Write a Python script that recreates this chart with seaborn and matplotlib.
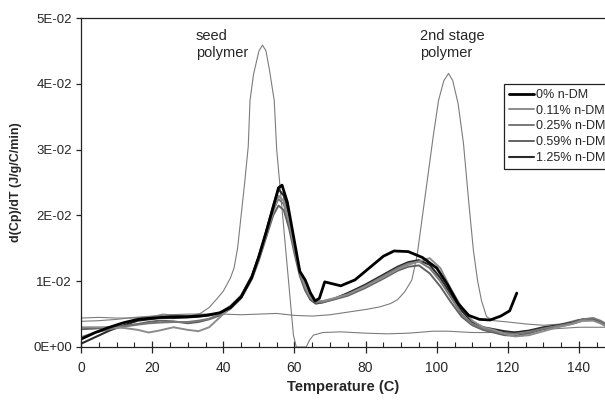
import numpy as np
import pandas as pd
import matplotlib
matplotlib.use("Agg")
import matplotlib.pyplot as plt
from matplotlib.ticker import MultipleLocator, FuncFormatter
import seaborn as sns

# DSC curves, values in units of 1E-02 J/g/C/min
temp_0 = [0, 4, 8, 12, 16, 20, 25, 30, 35, 39, 42, 45, 48, 50, 52, 54, 55.5, 56.5, 58, 60,
          61.5, 63, 64.5, 65.8, 67, 68.5, 70, 73, 77, 81, 85, 88, 92, 96, 100, 103, 106, 109,
          112, 115, 118, 120.5, 122.5]
dm_0 = [0.12, 0.22, 0.3, 0.37, 0.42, 0.44, 0.46, 0.46, 0.48, 0.52, 0.6, 0.76, 1.06, 1.38,
        1.74, 2.12, 2.42, 2.46, 2.2, 1.6, 1.15, 1.02, 0.82, 0.7, 0.74, 0.99, 0.97, 0.93, 1.02,
        1.2, 1.38, 1.46, 1.45, 1.36, 1.2, 0.95, 0.66, 0.48, 0.42, 0.41, 0.47, 0.55, 0.82]

temp_dsc = [0, 4, 8, 12, 16, 19, 22, 26, 30, 33, 36, 39, 42, 45, 48, 50, 52, 54, 55.5, 57,
            58.5, 60, 61.5, 63, 64.5, 66, 68, 71, 75, 80, 85, 89, 92, 95, 98, 101, 104, 107,
            110, 113, 116, 119, 122, 126, 130, 134, 138, 141, 144, 146, 148]
dm_011 = [0.3, 0.3, 0.3, 0.29, 0.26, 0.22, 0.25, 0.3, 0.26, 0.24, 0.3, 0.45, 0.6, 0.76, 1.05,
          1.35, 1.7, 2.05, 2.3, 2.22, 1.9, 1.5, 1.15, 0.92, 0.76, 0.7, 0.7, 0.74, 0.8, 0.92,
          1.06, 1.18, 1.25, 1.3, 1.35, 1.2, 0.88, 0.6, 0.4, 0.3, 0.26, 0.2, 0.16, 0.18, 0.24,
          0.3, 0.35, 0.4, 0.4, 0.36, 0.3]
dm_025 = [0.15, 0.22, 0.27, 0.31, 0.34, 0.36, 0.37, 0.38, 0.38, 0.4, 0.43, 0.5, 0.6, 0.77,
          1.07, 1.37, 1.72, 2.08, 2.25, 2.17, 1.88, 1.48, 1.12, 0.9, 0.74, 0.68, 0.69, 0.73,
          0.8, 0.93, 1.08, 1.2, 1.27, 1.3, 1.2, 1.0, 0.75, 0.5, 0.35, 0.28, 0.24, 0.21, 0.2,
          0.23, 0.28, 0.32, 0.36, 0.42, 0.44, 0.4, 0.34]
dm_059 = [0.27, 0.28, 0.3, 0.32, 0.35, 0.38, 0.4, 0.39, 0.36, 0.38, 0.42, 0.48, 0.58, 0.74,
          1.03, 1.32, 1.66, 2.0, 2.15, 2.08, 1.8, 1.42, 1.08, 0.86, 0.72, 0.67, 0.68, 0.72,
          0.78, 0.9, 1.04, 1.16, 1.22, 1.24, 1.12, 0.92, 0.68, 0.46, 0.33, 0.26, 0.22, 0.18,
          0.17, 0.21, 0.27, 0.31, 0.35, 0.4, 0.41, 0.37, 0.31]
dm_125 = [0.05, 0.15, 0.25, 0.33, 0.4, 0.42, 0.44, 0.44, 0.45, 0.46, 0.48, 0.52, 0.62, 0.78,
          1.08, 1.38, 1.75, 2.15, 2.4, 2.3, 1.95, 1.5, 1.12, 0.88, 0.72, 0.66, 0.68, 0.73,
          0.82, 0.95, 1.1, 1.22, 1.29, 1.32, 1.25, 1.05, 0.8, 0.55, 0.38, 0.3, 0.27, 0.24,
          0.22, 0.25, 0.3, 0.33, 0.37, 0.42, 0.43, 0.38, 0.33]

# reference polymers
temp_seed = [0, 5, 10, 15, 20, 23, 27, 31, 33.5, 36, 38, 40, 42, 43, 44, 45, 46, 47, 47.5,
             48.5, 50, 51, 52, 53, 54.3, 55, 56, 57, 58, 59, 59.7, 60.5, 63.3, 64.2, 65.3, 68,
             73, 80, 86, 92, 99, 103, 110, 116, 122, 128, 134, 140, 148]
seed = [0.44, 0.45, 0.44, 0.44, 0.46, 0.5, 0.48, 0.48, 0.51, 0.6, 0.72, 0.85, 1.05, 1.2, 1.5,
        2.0, 2.5, 3.05, 3.75, 4.15, 4.5, 4.59, 4.5, 4.2, 3.75, 3.0, 2.4, 1.8, 1.2, 0.6, 0.18,
        0.0, 0.0, 0.1, 0.18, 0.22, 0.23, 0.21, 0.2, 0.21, 0.24, 0.24, 0.22, 0.22, 0.23, 0.26,
        0.28, 0.3, 0.3]
temp_2nd = [0, 5, 10, 15, 20, 25, 30, 35, 40, 45, 50, 55, 60, 65, 70, 75, 80, 84, 87, 89, 91,
            93, 94.5, 96, 97.5, 99, 100.5, 102, 103.3, 104.5, 106, 107.5, 109, 110.3, 111.5,
            112.6, 114, 116, 120, 125, 130, 135, 140, 145, 148]
stage2 = [0.39, 0.4, 0.42, 0.45, 0.47, 0.49, 0.5, 0.5, 0.5, 0.49, 0.5, 0.51, 0.48, 0.47, 0.49,
          0.53, 0.57, 0.61, 0.66, 0.72, 0.84, 1.02, 1.4, 2.0, 2.6, 3.2, 3.75, 4.05, 4.16, 4.05,
          3.7, 3.1, 2.2, 1.47, 1.0, 0.7, 0.46, 0.4, 0.38, 0.35, 0.33, 0.35, 0.42, 0.4, 0.35]

labels = ["0% n-DM", "0.11% n-DM", "0.25% n-DM", "0.59% n-DM", "1.25% n-DM"]
colors = ["#000000", "#8c8c8c", "#777777", "#626262", "#2a2a2a"]
widths = [2.0, 1.4, 1.4, 1.4, 1.5]

sns.set_style("ticks")
plt.rcParams["font.family"] = ["Liberation Sans", "DejaVu Sans"]

fig, ax = plt.subplots(figsize=(6.05, 4.03), dpi=100)
fig.subplots_adjust(left=0.134, right=1.0, bottom=0.139, top=0.955)

scale = 1e-2
sns.lineplot(x=temp_seed, y=np.array(seed) * scale, ax=ax, color="#7c7c7c", lw=0.8)
sns.lineplot(x=temp_2nd, y=np.array(stage2) * scale, ax=ax, color="#7c7c7c", lw=0.8)

series = [(temp_0, dm_0), (temp_dsc, dm_011), (temp_dsc, dm_025),
          (temp_dsc, dm_059), (temp_dsc, dm_125)]
handles = []
for i in [4, 3, 2, 1, 0]:
    t, v = series[i]
    sns.lineplot(x=t, y=np.array(v) * scale, ax=ax, color=colors[i], lw=widths[i])
    handles.append(ax.lines[-1])
handles = handles[::-1]

ax.set_xlim(0, 147.3)
ax.set_ylim(0, 0.05)
ax.xaxis.set_major_locator(MultipleLocator(20))
ax.xaxis.set_minor_locator(MultipleLocator(5))
ax.yaxis.set_major_locator(MultipleLocator(0.01))
ax.yaxis.set_major_formatter(FuncFormatter(lambda v, p: f"{v:.0E}"))

ax.tick_params(axis="x", which="major", direction="inout", length=8, width=0.9,
               pad=6, labelsize=10)
ax.tick_params(axis="x", which="minor", direction="in", length=3.5, width=0.8)
ax.tick_params(axis="y", direction="out", length=3.5, width=0.9, pad=3, labelsize=9.5)

ax.spines["right"].set_visible(False)
for s in ["left", "bottom", "top"]:
    ax.spines[s].set_linewidth(0.9)
    ax.spines[s].set_color("#222222")

ax.set_xlabel("Temperature (C)", fontsize=10.5, fontweight="bold", labelpad=4)
ax.set_ylabel("d(Cp)/dT (J/g/C/min)", fontsize=9, fontweight="bold", labelpad=8)

ax.text(32.2, 0.0483, "seed\npolymer", fontsize=10.5, va="top", ha="left", linespacing=1.25)
ax.text(95.3, 0.0483, "2nd stage\npolymer", fontsize=10.5, va="top", ha="left",
        linespacing=1.25)

leg = ax.legend(handles, labels, loc="upper left", bbox_to_anchor=(0.807, 0.80),
                borderaxespad=0, fontsize=9, frameon=True, fancybox=False,
                edgecolor="#222222", framealpha=1, handlelength=2.0, handletextpad=0.2,
                labelspacing=0.3, borderpad=0.4)
leg.get_frame().set_linewidth(0.9)

fig.savefig("out.png", dpi=100)
